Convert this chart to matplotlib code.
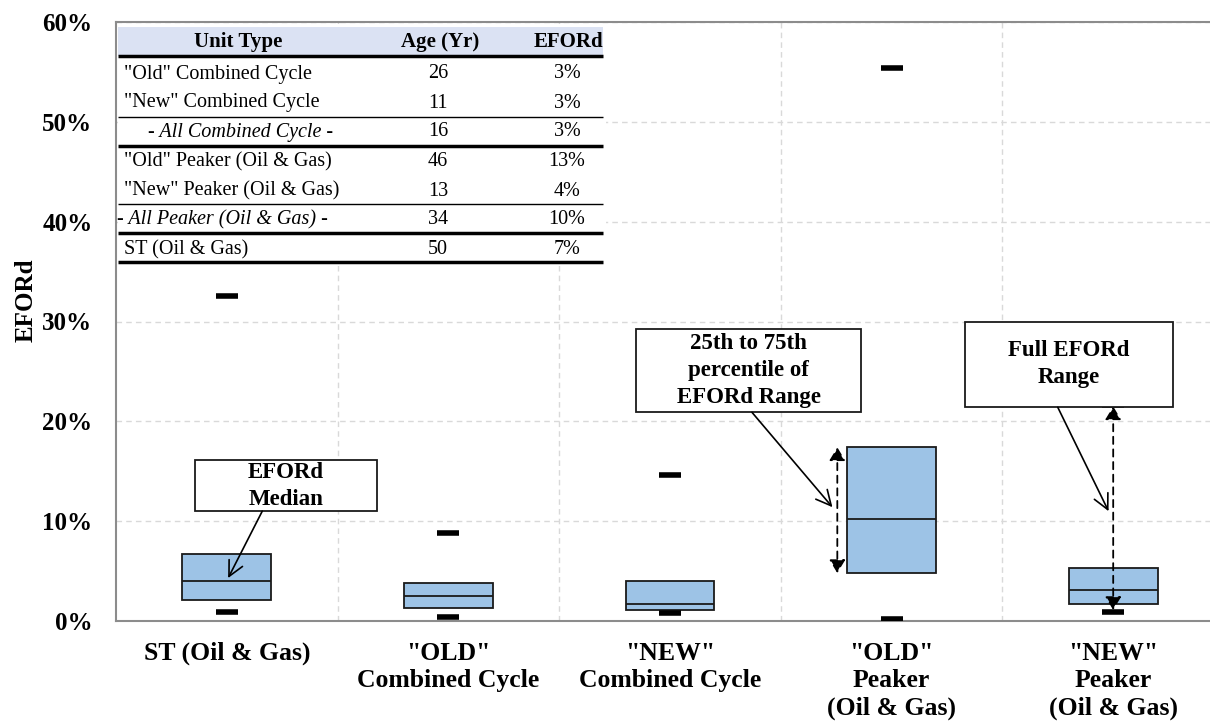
import matplotlib
matplotlib.use("Agg")
import matplotlib.pyplot as plt
from matplotlib.patches import Rectangle

# ---- EFORd distribution per unit type (percent) ----
categories = [
    "ST (Oil & Gas)",
    '"OLD"\nCombined Cycle',
    '"NEW"\nCombined Cycle',
    '"OLD"\nPeaker\n(Oil & Gas)',
    '"NEW"\nPeaker\n(Oil & Gas)',
]
eford_min = [0.9, 0.4, 0.8, 0.2, 0.9]
eford_q1 = [2.1, 1.3, 1.1, 4.8, 1.7]
eford_median = [4.0, 2.5, 1.7, 10.2, 3.1]
eford_q3 = [6.7, 3.8, 4.0, 17.4, 5.3]
eford_max = [32.6, 8.8, 14.6, 55.4, 21.6]

# ---- summary table ----
table_header = ["Unit Type", "Age (Yr)", "EFORd"]
table_units = [
    '"Old" Combined Cycle',
    '"New" Combined Cycle',
    "- All Combined Cycle -",
    '"Old" Peaker (Oil & Gas)',
    '"New" Peaker (Oil & Gas)',
    "- All Peaker (Oil & Gas) -",
    "ST (Oil & Gas)",
]
table_ages = [26, 11, 16, 46, 13, 34, 50]
table_eford = [3, 3, 3, 13, 4, 10, 7]

SERIF = "Liberation Serif"
BOX_BLUE = "#9dc3e6"
GRID = "#d9d9d9"

W, H = 1210, 722
fig = plt.figure(figsize=(W / 100, H / 100), dpi=100)
fig.patch.set_facecolor("white")

# main axes (right edge runs slightly past the canvas)
ax = fig.add_axes([116 / W, 1 - 621 / H, 1108 / W, 599 / H])
x = list(range(len(categories)))

box_w = 0.4
ax.bar(x, [t - b for t, b in zip(eford_q3, eford_q1)], bottom=eford_q1,
       width=box_w, color=BOX_BLUE, edgecolor="#1a1a1a", linewidth=1.3, zorder=3)
ax.hlines(eford_median, [i - box_w / 2 for i in x], [i + box_w / 2 for i in x],
          color="#1a1a1a", linewidth=1.3, zorder=4)
cap = 0.05
for lo_hi in (eford_min, eford_max):
    ax.hlines(lo_hi, [i - cap for i in x], [i + cap for i in x],
              color="black", linewidth=4, zorder=5, capstyle="butt")

ax.set_xlim(-0.5, 4.5)
ax.set_ylim(0, 60)
ax.set_yticks(range(0, 61, 10))
ax.set_yticklabels([f"{v}%" for v in range(0, 61, 10)])
ax.set_xticks(x)
ax.set_xticklabels(categories, linespacing=1.23)
ax.set_xticks([0.5, 1.5, 2.5, 3.5], minor=True)
ax.tick_params(axis="both", which="both", length=0)
ax.tick_params(axis="y", pad=17)
ax.tick_params(axis="x", pad=15)
for lab in ax.get_yticklabels():
    lab.set_fontfamily(SERIF)
    lab.set_fontweight("bold")
    lab.set_fontsize(18)
for lab in ax.get_xticklabels():
    lab.set_fontfamily(SERIF)
    lab.set_fontweight("bold")
    lab.set_fontsize(18.5)
ax.yaxis.grid(True, linestyle=(0, (4, 3)), color=GRID, linewidth=1, zorder=0)
ax.xaxis.grid(True, which="minor", linestyle=(0, (4, 3)), color=GRID, linewidth=1, zorder=0)
ax.set_axisbelow(True)
for sp in ax.spines.values():
    sp.set_color("#8c8c8c")
    sp.set_linewidth(1.5)

ax.set_ylabel("EFORd", fontfamily=SERIF, fontweight="bold", fontsize=18)
ax.yaxis.set_label_coords(-0.071, 0.535)

# dashed range arrows
dash_arrow = dict(arrowstyle="<|-|>,head_length=0.5,head_width=0.3", linestyle=(0, (4, 3)),
                  linewidth=1.3, color="black", shrinkA=0, shrinkB=0, mutation_scale=16)
ax.annotate("", xy=(3 - 0.245, eford_q3[3]), xytext=(3 - 0.245, eford_q1[3]),
            arrowprops=dash_arrow, zorder=6)
ax.annotate("", xy=(4, eford_max[4] - 0.1), xytext=(4, eford_min[4] + 0.2),
            arrowprops=dash_arrow, zorder=6)

# callout boxes: (x0, x1, y0, y1) in data units, arrow start and tip
callouts = [
    ("EFORd\nMedian", (-0.143, 0.678, 11.0, 16.1), (0.16, 11.0), (0.006, 4.3)),
    ("25th to 75th\npercentile of\nEFORd Range", (1.848, 2.863, 20.9, 29.2), (2.37, 20.9), (2.733, 11.4)),
    ("Full EFORd\nRange", (3.333, 4.268, 21.4, 30.0), (3.75, 21.4), (3.979, 11.0)),
]
for text, (x0, x1, y0, y1), start, tip in callouts:
    ax.add_patch(Rectangle((x0, y0), x1 - x0, y1 - y0, facecolor="white",
                           edgecolor="#1a1a1a", linewidth=1.3, zorder=7))
    ax.text((x0 + x1) / 2, (y0 + y1) / 2, text, ha="center", va="center",
            fontfamily=SERIF, fontweight="bold", fontsize=16.5, linespacing=1.37, zorder=8)
    ax.annotate("", xy=tip, xytext=start,
                arrowprops=dict(arrowstyle="->,head_length=0.6,head_width=0.3",
                                color="black", linewidth=1.2, shrinkA=0, shrinkB=0,
                                mutation_scale=18), zorder=7)

# ---- table drawn in pixel coordinates ----
tx0, tx1, ty0, ty1 = 117.5, 606, 23.5, 266
tab = fig.add_axes([tx0 / W, 1 - ty1 / H, (tx1 - tx0) / W, (ty1 - ty0) / H])
tab.set_xlim(tx0, tx1)
tab.set_ylim(ty1, ty0)
tab.set_facecolor("white")
for sp in tab.spines.values():
    sp.set_visible(False)
tab.set_xticks([])
tab.set_yticks([])

tab.add_patch(Rectangle((118, 27), 485, 29, facecolor="#dbe2f3", edgecolor="none"))
hy = 42
for label, hx in zip(table_header, [238, 440, 568]):
    tab.text(hx, hy, label, ha="center", va="center", fontfamily=SERIF,
             fontweight="bold", fontsize=15)

row_y = [74, 103, 132, 162, 191, 220, 250]
for unit, age, ef, y in zip(table_units, table_ages, table_eford, row_y):
    is_total = unit.startswith("-")
    if unit.startswith("- All Combined"):
        ux = 148
    elif is_total:
        ux = 117
    else:
        ux = 124
    tab.text(ux, y, unit, ha="left", va="center", fontfamily=SERIF, fontsize=14.5,
             fontstyle="italic" if is_total else "normal")
    tab.text(438, y, str(age), ha="center", va="center", fontfamily=SERIF, fontsize=14.5)
    tab.text(567, y, f"{ef}%", ha="center", va="center", fontfamily=SERIF, fontsize=14.5)

for y, lw in [(56, 2.5), (117, 1.0), (146, 2.5), (204, 1.0), (233, 2.5), (262, 2.5)]:
    tab.plot([118, 603], [y, y], color="black", linewidth=lw, solid_capstyle="butt",
             clip_on=False)

fig.savefig("out.png", dpi=100, facecolor="white")
